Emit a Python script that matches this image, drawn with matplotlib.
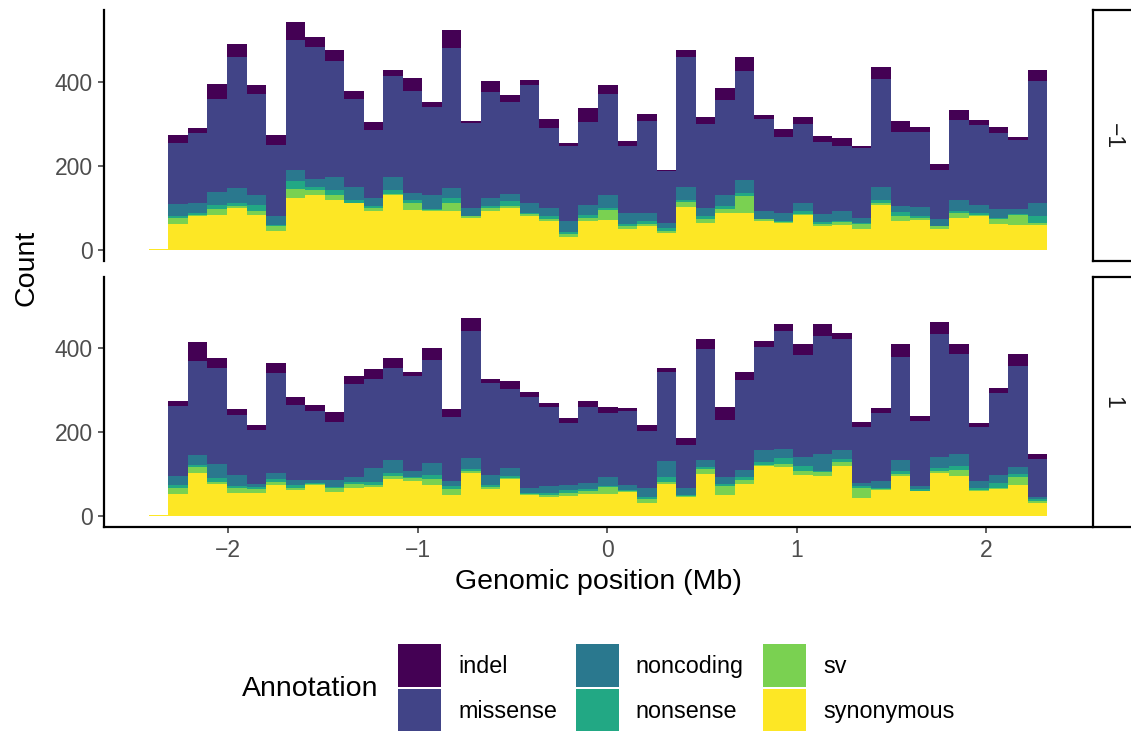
import matplotlib
matplotlib.use("Agg")
import matplotlib.pyplot as plt
from matplotlib.patches import Patch
import numpy as np

plt.rcParams["font.family"] = ["Liberation Sans", "DejaVu Sans"]

# stacking order bottom -> top is reversed legend order (ggplot style)
annotations = ["indel", "missense", "noncoding", "nonsense", "sv", "synonymous"]
colors = ["#440154", "#414487", "#2A788E", "#22A884", "#7AD151", "#FDE725"]

bin_start = -2.418
bin_width = 0.103

facet_labels = ["\u22121", "1"]

# facet -1
neg_synonymous = [2, 63, 80, 84, 101, 84, 46, 125, 132, 120, 111, 94, 132, 96, 94, 92, 77, 94, 101, 80, 70, 32, 70, 72,
                  51, 56, 41, 103, 65, 87, 87, 68, 65, 84, 56, 60, 51, 108, 68, 72, 51, 77, 82, 63, 60, 60]
neg_sv = [0, 14, 4, 14, 5, 10, 12, 21, 12, 10, 2, 7, 2, 17, 2, 19, 5, 7, 5, 5, 5, 5, 7, 24,
          7, 7, 5, 12, 10, 10, 41, 5, 2, 2, 5, 7, 12, 5, 12, 5, 5, 12, 2, 12, 24, 5]
neg_nonsense = [0, 3, 3, 10, 5, 14, 2, 19, 7, 12, 7, 5, 10, 5, 2, 12, 0, 5, 10, 2, 5, 7, 7, 5,
                5, 5, 7, 5, 7, 7, 7, 2, 2, 7, 5, 2, 2, 5, 10, 5, 2, 5, 5, 2, 2, 17]
neg_noncoding = [0, 30, 26, 31, 36, 24, 22, 26, 19, 31, 31, 19, 29, 17, 33, 24, 17, 19, 17, 26, 21, 24, 24, 31,
                 24, 19, 12, 31, 19, 26, 31, 19, 19, 19, 19, 24, 12, 31, 14, 21, 17, 26, 19, 21, 12, 29]
neg_missense = [0, 145, 165, 220, 312, 239, 169, 310, 313, 277, 210, 162, 241, 243, 210, 334, 203, 251, 220, 279, 189, 179, 198, 239,
                160, 220, 124, 308, 200, 227, 260, 217, 181, 189, 172, 155, 165, 258, 177, 179, 115, 189, 189, 181, 165, 291]
neg_indel = [0, 19, 12, 36, 33, 21, 22, 43, 24, 26, 19, 17, 14, 33, 12, 43, 5, 26, 17, 14, 21, 9, 33, 21,
             12, 17, 2, 17, 17, 29, 35, 10, 19, 17, 14, 19, 7, 29, 26, 12, 14, 24, 12, 14, 7, 26]

# facet 1
pos_synonymous = [2, 52, 103, 76, 55, 55, 74, 62, 74, 57, 67, 69, 88, 84, 74, 50, 103, 64, 88, 50, 45, 48, 52, 52,
                  57, 31, 76, 45, 100, 50, 76, 119, 117, 98, 95, 119, 43, 62, 95, 60, 103, 95, 60, 64, 74, 31]
pos_sv = [0, 14, 14, 5, 12, 10, 7, 5, 2, 10, 10, 5, 7, 7, 14, 14, 5, 5, 2, 2, 5, 7, 7, 17,
          2, 10, 5, 2, 12, 22, 10, 2, 7, 10, 10, 10, 24, 2, 5, 0, 5, 14, 2, 2, 19, 5]
pos_nonsense = [0, 7, 5, 10, 5, 5, 7, 7, 3, 2, 5, 7, 7, 2, 10, 7, 5, 5, 5, 2, 5, 7, 5, 2,
                2, 5, 12, 3, 5, 5, 7, 7, 14, 12, 2, 7, 5, 2, 7, 5, 7, 10, 5, 12, 7, 5]
pos_noncoding = [1, 22, 24, 33, 26, 7, 14, 12, 7, 17, 10, 33, 31, 14, 29, 12, 26, 24, 19, 14, 17, 12, 14, 22,
                 12, 21, 38, 17, 17, 17, 17, 29, 22, 22, 41, 22, 7, 17, 26, 7, 26, 29, 17, 19, 17, 5]
pos_missense = [0, 167, 224, 229, 143, 129, 239, 179, 165, 138, 224, 212, 220, 227, 246, 153, 303, 220, 189, 215, 188, 148, 182, 153,
                177, 136, 212, 103, 265, 134, 215, 246, 282, 243, 282, 265, 134, 162, 246, 155, 294, 239, 129, 196, 241, 91]
pos_indel = [0, 12, 45, 24, 14, 12, 24, 19, 14, 24, 17, 24, 24, 10, 29, 19, 31, 10, 19, 12, 10, 12, 14, 14,
             7, 14, 10, 17, 24, 31, 19, 14, 17, 26, 29, 14, 12, 12, 31, 12, 29, 24, 10, 12, 29, 12]

facets = [
    [neg_indel, neg_missense, neg_noncoding, neg_nonsense, neg_sv, neg_synonymous],
    [pos_indel, pos_missense, pos_noncoding, pos_nonsense, pos_sv, pos_synonymous],
]

W, H = 1131, 731
fig = plt.figure(figsize=(W / 100, H / 100), dpi=100)

def box(x0, y0, x1, y1):
    # pixel box (top-left origin) -> figure fraction
    return [x0 / W, 1 - y1 / H, (x1 - x0) / W, (y1 - y0) / H]

n_bins = len(neg_synonymous)
edges = bin_start + bin_width * np.arange(n_bins + 1)
totals = [np.sum(np.array(f, dtype=float), axis=0) for f in facets]
ymax = max(t.max() for t in totals)
xpad = 0.05 * (edges[-1] - edges[0])

tick_color = "#4D4D4D"
panels = [(10.3, 261.4), (276.7, 527.4)]
for i, (layers, (py0, py1)) in enumerate(zip(facets, panels)):
    ax = fig.add_axes(box(104, py0, 1092, py1))
    bottom = np.zeros(n_bins)
    for name, col, vals in reversed(list(zip(annotations, colors, layers))):
        vals = np.array(vals, dtype=float)
        ax.bar(edges[:-1], vals, width=bin_width, bottom=bottom, align="edge",
               color=col, linewidth=0)
        bottom += vals
    ax.set_xlim(edges[0] - xpad, edges[-1] + xpad)
    ax.set_ylim(-0.05 * ymax, 1.05 * ymax)
    ax.set_yticks([0, 200, 400])
    ax.set_xticks([-2, -1, 0, 1, 2])
    for s in ["top", "right"]:
        ax.spines[s].set_visible(False)
    ax.spines["left"].set_linewidth(1.6)
    ax.spines["bottom"].set_linewidth(1.6)
    ax.tick_params(axis="both", length=4, width=1.1, color="#333333",
                   labelsize=16.5, labelcolor=tick_color, pad=4)
    if i == 0:
        ax.spines["bottom"].set_visible(False)
        ax.tick_params(axis="x", bottom=False, labelbottom=False)

    sax = fig.add_axes(box(1093, py0, 1133, py1))
    sax.set_xticks([])
    sax.set_yticks([])
    for s in sax.spines.values():
        s.set_linewidth(1.6)
    sax.text(0.5, 0.5, facet_labels[i], rotation=-90, ha="center", va="center",
             fontsize=16.5, color="#1A1A1A", transform=sax.transAxes)

fig.text(27 / W, 1 - 268 / H, "Count", rotation=90, ha="center", va="center", fontsize=20.5)
fig.text(598 / W, 1 - 582 / H, "Genomic position (Mb)", ha="center", va="center", fontsize=20.5)

fig.text(242 / W, 1 - 689 / H, "Annotation", ha="left", va="center", fontsize=20.5)
handles = [Patch(facecolor=c, edgecolor="none") for c in colors]
fs = 16.8
key_px = 43
fs_px = fs * 100 / 72
# matplotlib trims 0.35*fs*(hh-0.7) off the key height; solve for a 43px square key
key_h = (key_px - 0.245 * fs_px) / (0.65 * fs_px)
fig.legend(handles, annotations, loc="center left", bbox_to_anchor=(398 / W, 1 - 688 / H),
           ncol=3, frameon=False, fontsize=fs, borderpad=0, borderaxespad=0,
           handlelength=key_px / fs_px, handleheight=key_h,
           handletextpad=17 / fs_px, columnspacing=19 / fs_px, labelspacing=2 / fs_px)

fig.savefig("out.png", dpi=100)
